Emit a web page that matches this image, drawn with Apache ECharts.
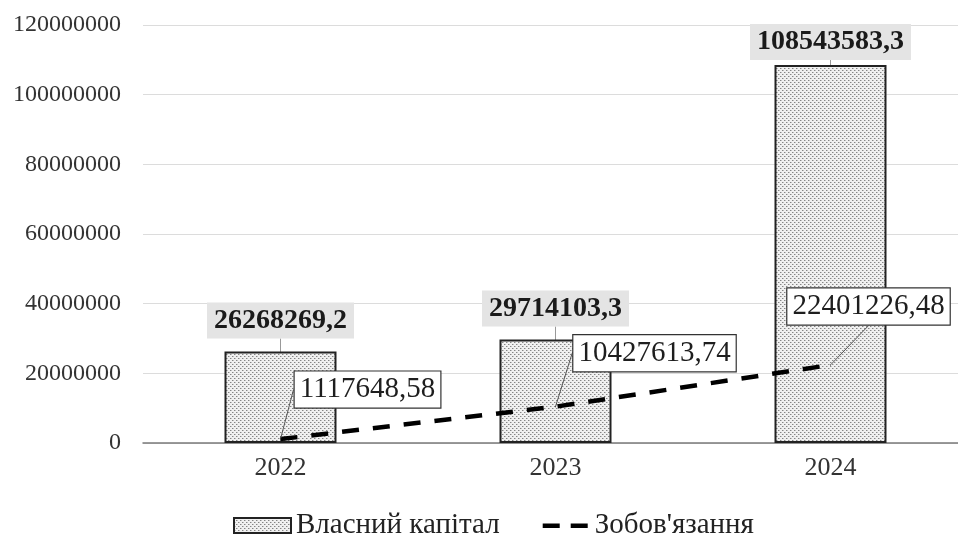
<!DOCTYPE html>
<html>
<head>
<meta charset="utf-8">
<script src="https://cdn.jsdelivr.net/npm/echarts@6/dist/echarts.min.js"></script>
<style>
  html, body { margin: 0; padding: 0; background: #fff; }
  #chart { width: 958px; height: 538px; }
</style>
</head>
<body>
<div id="chart"></div>
<script>
// Balance structure by year
const years = ['2022', '2023', '2024'];
const equity = [26268269.2, 29714103.3, 108543583.3];
const liabilities = [1117648.58, 10427613.74, 22401226.48];
const yTicks = [0, 20000000, 40000000, 60000000, 80000000, 100000000, 120000000];
const seriesNames = ['Власний капітал', "Зобов'язання"];

const FONT = "'Liberation Serif', 'Times New Roman', serif";

// Dotted fill used for the equity bars
function dotPattern() {
  const c = document.createElement('canvas');
  c.width = 4; c.height = 4;
  const g = c.getContext('2d');
  g.fillStyle = '#f0f0f0';
  g.fillRect(0, 0, 4, 4);
  g.fillStyle = '#858585';
  g.fillRect(0, 0, 1, 1);
  g.fillRect(2, 2, 1, 1);
  g.fillStyle = '#c0c0c0';
  g.fillRect(1, 0, 1, 1);
  g.fillRect(3, 2, 1, 1);
  return c;
}

function fmt(v, digits) {
  return v.toFixed(digits).replace('.', ',');
}

// Label offsets (px) relative to the default label spot
const barLabelShift = [-8, -8, 0];
const lineLabelShift = [[87, -31], [99, -35], [38, -40]];

const chart = echarts.init(document.getElementById('chart'));
chart.setOption({
  animation: false,
  backgroundColor: '#fff',
  textStyle: { fontFamily: FONT },
  grid: { left: 143, width: 825, top: 25, bottom: 95, outerBoundsMode: 'none', containLabel: false },
  legend: {
    left: 228,
    top: 506,
    itemWidth: 57,
    itemHeight: 15,
    itemGap: 33,
    textStyle: { fontFamily: FONT, fontSize: 29, color: '#222' },
    data: [
      { name: seriesNames[0], icon: 'rect' },
      {
        name: seriesNames[1],
        icon: 'path://M0,0h0.01v0.01h-0.01z M10,5.5h17v4.5h-17z M38,5.5h17v4.5h-17z M56.99,14.99h0.01v0.01h-0.01z'
      }
    ]
  },
  xAxis: {
    type: 'category',
    data: years,
    axisLine: { lineStyle: { color: '#7a7a7a', width: 1.5 } },
    axisTick: { show: false },
    axisLabel: { fontFamily: FONT, fontSize: 26, color: '#333', margin: 12 }
  },
  yAxis: {
    type: 'value',
    min: yTicks[0],
    max: yTicks[yTicks.length - 1],
    interval: yTicks[1] - yTicks[0],
    axisLine: { show: false },
    axisTick: { show: false },
    splitLine: { lineStyle: { color: '#dcdcdc', width: 1 } },
    axisLabel: {
      fontFamily: FONT, fontSize: 24, color: '#333', margin: 22,
      formatter: v => String(v)
    }
  },
  series: [
    {
      name: seriesNames[0],
      type: 'bar',
      data: equity,
      barWidth: 112,
      itemStyle: {
        color: { image: dotPattern(), repeat: 'repeat' },
        borderColor: '#222',
        borderWidth: 2
      },
      label: {
        show: true,
        position: 'top',
        distance: 5,
        formatter: p => fmt(p.value, 1),
        fontFamily: FONT,
        fontSize: 28,
        fontWeight: 'bold',
        color: '#1a1a1a',
        backgroundColor: '#e4e4e4',
        padding: [3, 7],
        lineHeight: 30
      },
      labelLine: { show: true, lineStyle: { color: '#999', width: 1 } },
      labelLayout: p => ({ dy: barLabelShift[p.dataIndex] }),
      z: 2
    },
    {
      name: seriesNames[1],
      type: 'line',
      data: liabilities,
      symbol: 'circle',
      symbolSize: 1,
      itemStyle: { color: '#000' },
      lineStyle: { color: '#000', width: 4.5, type: [17, 14] },
      label: {
        show: true,
        position: 'top',
        distance: 0,
        formatter: p => fmt(p.value, 2),
        fontFamily: FONT,
        fontSize: 29,
        color: '#1e1e1e',
        backgroundColor: '#fff',
        borderColor: '#333',
        borderWidth: 1.2,
        padding: [4, 5],
        lineHeight: 28
      },
      labelLine: { show: true, lineStyle: { color: '#555', width: 1 } },
      labelLayout: p => ({ dx: lineLabelShift[p.dataIndex][0], dy: lineLabelShift[p.dataIndex][1] }),
      z: 3
    }
  ]
});
</script>
</body>
</html>
